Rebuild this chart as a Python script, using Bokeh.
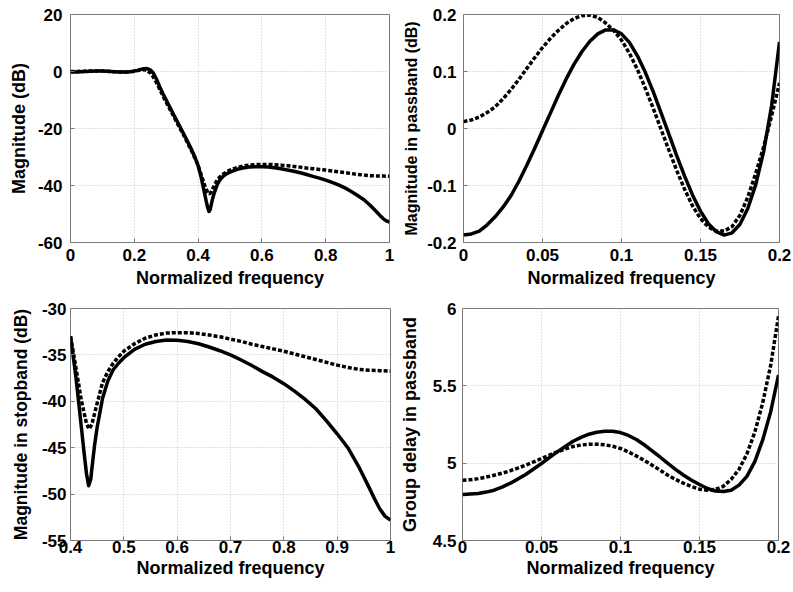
from bokeh.plotting import figure
from bokeh.layouts import column, row
from bokeh.models import FixedTicker, Range1d
from bokeh.embed import file_html
from bokeh.resources import INLINE

# ---------------- data ----------------
# passband frequency grid (normalized)
freq_pass = [0.000, 0.005, 0.010, 0.015, 0.020, 0.025, 0.030, 0.035, 0.040, 0.045,
             0.050, 0.055, 0.060, 0.065, 0.070, 0.075, 0.080, 0.085, 0.090, 0.095,
             0.100, 0.105, 0.110, 0.115, 0.120, 0.125, 0.130, 0.135, 0.140, 0.145,
             0.150, 0.155, 0.160, 0.165, 0.170, 0.175, 0.180, 0.185, 0.190, 0.195, 0.200]
mag_pass_solid = [-0.187, -0.185, -0.180, -0.169, -0.155, -0.138, -0.118, -0.093, -0.065, -0.035,
                  -0.004, 0.027, 0.058, 0.087, 0.113, 0.135, 0.153, 0.166, 0.173, 0.173,
                  0.166, 0.151, 0.128, 0.099, 0.065, 0.028, -0.010, -0.048, -0.084, -0.117,
                  -0.145, -0.167, -0.181, -0.187, -0.183, -0.168, -0.140, -0.098, -0.040, 0.040, 0.152]
mag_pass_dashed = [0.012, 0.015, 0.020, 0.028, 0.038, 0.052, 0.068, 0.086, 0.105, 0.124,
                   0.142, 0.158, 0.172, 0.184, 0.193, 0.198, 0.199, 0.195, 0.185, 0.172,
                   0.155, 0.132, 0.104, 0.071, 0.036, -0.001, -0.038, -0.074, -0.107, -0.136,
                   -0.158, -0.173, -0.180, -0.180, -0.172, -0.152, -0.120, -0.078, -0.032, 0.022, 0.080]

# transition band
freq_trans = [0.21, 0.22, 0.23, 0.24, 0.25, 0.26, 0.27, 0.28, 0.29, 0.30, 0.32, 0.34, 0.36, 0.38, 0.39]
mag_trans_solid = [0.4, 0.75, 1.0, 1.05, 0.6, -0.6, -2.8, -5.4, -7.8, -10.0, -14.4, -18.7, -23.0, -27.5, -30.0]
mag_trans_dashed = [0.3, 0.55, 0.65, 0.4, -0.5, -2.0, -4.0, -6.3, -8.6, -10.8, -15.0, -19.3, -23.5, -28.0, -30.4]

# stopband
freq_stop_solid = [0.40, 0.41, 0.42, 0.425, 0.43, 0.434, 0.438, 0.44, 0.445, 0.45, 0.46, 0.47, 0.48,
                   0.49, 0.50, 0.52, 0.54, 0.56, 0.58, 0.60, 0.62, 0.64, 0.66, 0.68, 0.70, 0.72,
                   0.74, 0.76, 0.78, 0.80, 0.82, 0.84, 0.86, 0.88, 0.90, 0.92, 0.94, 0.96, 0.97,
                   0.98, 0.99, 1.00]
mag_stop_solid = [-33.0, -37.3, -42.6, -45.3, -47.8, -49.1, -48.4, -47.3, -44.8, -42.8, -39.7, -37.8, -36.6,
                  -35.9, -35.3, -34.4, -33.85, -33.55, -33.4, -33.43, -33.55, -33.8, -34.15, -34.55, -35.0, -35.55,
                  -36.15, -36.8, -37.4, -38.1, -38.9, -39.8, -40.8, -42.1, -43.5, -45.0, -47.0, -49.3, -50.5,
                  -51.6, -52.4, -52.8]
freq_stop_dashed = [0.40, 0.41, 0.42, 0.43, 0.435, 0.44, 0.45, 0.46, 0.47, 0.48, 0.49, 0.50, 0.52,
                    0.54, 0.56, 0.58, 0.60, 0.62, 0.64, 0.66, 0.68, 0.70, 0.72, 0.74, 0.76, 0.78,
                    0.80, 0.82, 0.84, 0.86, 0.88, 0.90, 0.92, 0.94, 0.96, 0.98, 1.00]
mag_stop_dashed = [-33.0, -36.3, -39.8, -42.4, -43.0, -42.5, -40.2, -38.0, -36.8, -35.9, -35.2, -34.6, -33.8,
                   -33.2, -32.85, -32.65, -32.6, -32.6, -32.7, -32.85, -33.05, -33.3, -33.55, -33.85, -34.1, -34.35,
                   -34.6, -34.9, -35.2, -35.5, -35.8, -36.1, -36.35, -36.55, -36.65, -36.7, -36.75]

# group delay in passband
freq_gd = [0.000, 0.005, 0.010, 0.015, 0.020, 0.025, 0.030, 0.035, 0.040, 0.045,
           0.050, 0.055, 0.060, 0.065, 0.070, 0.075, 0.080, 0.085, 0.090, 0.095,
           0.100, 0.105, 0.110, 0.115, 0.120, 0.125, 0.130, 0.135, 0.140, 0.145,
           0.150, 0.155, 0.160, 0.165, 0.170, 0.175, 0.180, 0.185, 0.190, 0.195, 0.200]
gd_solid = [4.797, 4.800, 4.804, 4.813, 4.825, 4.845, 4.869, 4.897, 4.927, 4.962,
            4.998, 5.036, 5.073, 5.108, 5.142, 5.167, 5.187, 5.200, 5.207, 5.206,
            5.198, 5.179, 5.153, 5.119, 5.080, 5.040, 4.998, 4.958, 4.922, 4.890,
            4.862, 4.836, 4.820, 4.817, 4.825, 4.858, 4.915, 5.010, 5.150, 5.330, 5.570]
gd_dashed = [4.890, 4.893, 4.900, 4.910, 4.922, 4.935, 4.950, 4.968, 4.987, 5.008,
             5.030, 5.052, 5.073, 5.092, 5.108, 5.117, 5.123, 5.123, 5.119, 5.109,
             5.095, 5.073, 5.047, 5.018, 4.987, 4.955, 4.922, 4.894, 4.869, 4.848,
             4.832, 4.825, 4.830, 4.850, 4.895, 4.960, 5.060, 5.200, 5.390, 5.630, 5.950]

# ticks
ticks_full_x = [0, 0.2, 0.4, 0.6, 0.8, 1]
labels_full_x = ["0", "0.2", "0.4", "0.6", "0.8", "1"]
ticks_full_y = [-60, -40, -20, 0, 20]
labels_full_y = ["-60", "-40", "-20", "0", "20"]
ticks_pass_x = [0, 0.05, 0.1, 0.15, 0.2]
labels_pass_x = ["0", "0.05", "0.1", "0.15", "0.2"]
ticks_pass_y = [-0.2, -0.1, 0, 0.1, 0.2]
labels_pass_y = ["-0.2", "-0.1", "0", "0.1", "0.2"]
ticks_stop_x = [0.4, 0.5, 0.6, 0.7, 0.8, 0.9, 1]
labels_stop_x = ["0.4", "0.5", "0.6", "0.7", "0.8", "0.9", "1"]
ticks_stop_y = [-55, -50, -45, -40, -35, -30]
labels_stop_y = ["-55", "-50", "-45", "-40", "-35", "-30"]
ticks_gd_y = [4.5, 5, 5.5, 6]
labels_gd_y = ["4.5", "5", "5.5", "6"]

x_label = "Normalized frequency"

FONT = "Liberation Sans"


def make_fig(w, h, bl, br, bt, bb, xr, yr, xt, xl, yt, yl, ylabel, ylabel_size,
             ystand, ylstand, xstand, xlstand):
    p = figure(width=w, height=h, output_backend="svg", toolbar_location=None,
               x_range=Range1d(*xr), y_range=Range1d(*yr),
               min_border_left=bl, min_border_right=br, min_border_top=bt, min_border_bottom=bb)
    p.background_fill_color = "white"
    p.border_fill_color = "white"
    p.outline_line_color = "#7a7a7a"
    p.outline_line_width = 1
    for ax, ticks, labels in ((p.xaxis[0], xt, xl), (p.yaxis[0], yt, yl)):
        ax.ticker = FixedTicker(ticks=ticks)
        ax.major_label_overrides = {float(t): s for t, s in zip(ticks, labels)}
        ax.axis_line_color = None
        ax.major_tick_in = 4
        ax.major_tick_out = 0
        ax.major_tick_line_color = "#7a7a7a"
        ax.minor_tick_line_color = None
        ax.major_label_text_font = FONT
        ax.major_label_text_font_style = "bold"
        ax.major_label_text_font_size = "17px"
        ax.major_label_text_color = "black"
        ax.axis_label_text_font = FONT
        ax.axis_label_text_font_style = "bold"
        ax.axis_label_text_color = "black"
    p.xaxis.axis_label = x_label
    p.xaxis.axis_label_text_font_size = "18px"
    p.xaxis.major_label_standoff = xstand
    p.xaxis.axis_label_standoff = xlstand
    p.yaxis.axis_label = ylabel
    p.yaxis.axis_label_text_font_size = ylabel_size
    p.yaxis.major_label_standoff = ystand
    p.yaxis.axis_label_standoff = ylstand
    for g in (p.xgrid[0], p.ygrid[0]):
        g.grid_line_color = "#c4c4c4"
        g.grid_line_dash = "1 2"
        g.grid_line_width = 1
    return p


SOLID = dict(line_color="black", line_width=3.5, line_join="round")
DASHED = dict(line_color="black", line_width=3.5, line_dash="4 2")

# top-left: full magnitude response
p1 = make_fig(396, 290, 70, 7, 14, 47, (0, 1), (-60, 20), ticks_full_x, labels_full_x,
              ticks_full_y, labels_full_y, "Magnitude (dB)", "18px", 8, 6, 6, 4)
full_x_solid = freq_pass + freq_trans + freq_stop_solid
full_y_solid = mag_pass_solid + mag_trans_solid + mag_stop_solid
full_x_dashed = freq_pass + freq_trans + freq_stop_dashed
full_y_dashed = mag_pass_dashed + mag_trans_dashed + mag_stop_dashed
p1.line(full_x_dashed, full_y_dashed, **DASHED)
p1.line(full_x_solid, full_y_solid, **SOLID)

# top-right: passband magnitude
p2 = make_fig(397, 290, 67, 14, 14, 47, (0, 0.2), (-0.2, 0.2), ticks_pass_x, labels_pass_x,
              ticks_pass_y, labels_pass_y, "Magnitude in passband (dB)", "16px", 7, 4, 6, 4)
p2.line(freq_pass, mag_pass_dashed, **DASHED)
p2.line(freq_pass, mag_pass_solid, **SOLID)

# bottom-left: stopband magnitude
p3 = make_fig(396, 302, 70, 6, 18, 52, (0.4, 1), (-55, -30), ticks_stop_x, labels_stop_x,
              ticks_stop_y, labels_stop_y, "Magnitude in stopband (dB)", "17.5px", 4, 8, 0, 2)
p3.line(freq_stop_dashed, mag_stop_dashed, **DASHED)
p3.line(freq_stop_solid, mag_stop_solid, **SOLID)

# bottom-right: group delay
p4 = make_fig(397, 302, 65, 15, 18, 52, (0, 0.2), (4.5, 6), ticks_pass_x, labels_pass_x,
              ticks_gd_y, labels_gd_y, "Group delay in passband", "18px", 6, 10, 0, 2)
p4.line(freq_gd, gd_dashed, **DASHED)
p4.line(freq_gd, gd_solid, **SOLID)

layout = column(row(p1, p2), row(p3, p4))

with open("out.html", "w") as f:
    f.write(file_html(layout, INLINE))
